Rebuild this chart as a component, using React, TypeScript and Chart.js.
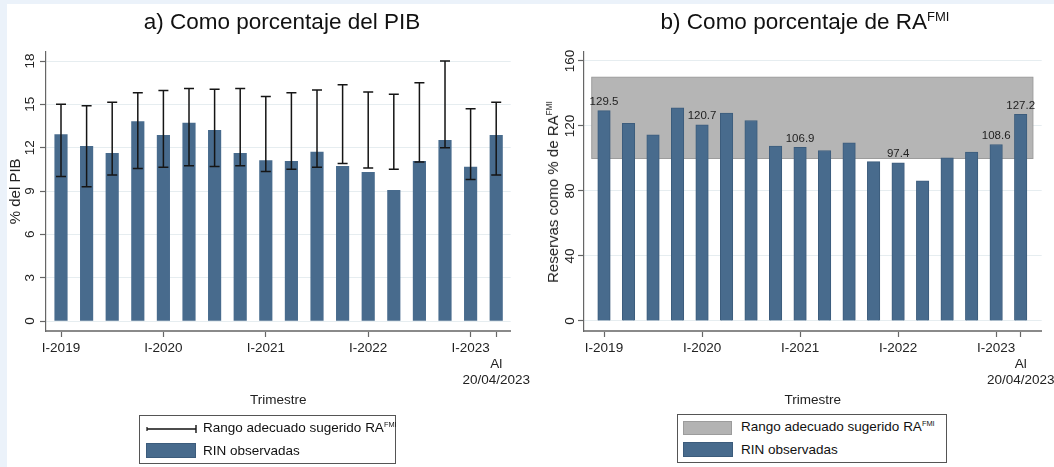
import React, { useEffect, useRef } from "react";
import { Chart, registerables } from "chart.js";

Chart.register(...registerables);

const FONT = '"Liberation Sans", Arial, Helvetica, sans-serif';
Chart.defaults.font.family = FONT;

// ---------------- DATA ----------------
const categories = [
  "I-2019", "II-2019", "III-2019", "IV-2019",
  "I-2020", "II-2020", "III-2020", "IV-2020",
  "I-2021", "II-2021", "III-2021", "IV-2021",
  "I-2022", "II-2022", "III-2022", "IV-2022",
  "I-2023", "Al 20/04/2023",
];
const xTickIndex = [0, 4, 8, 12, 16, 17];
const xTickLabels: (string | string[])[] = ["I-2019", "I-2020", "I-2021", "I-2022", "I-2023", ["", "Al", "20/04/2023"]];

// a) % del PIB
const rinPib = [12.9, 12.1, 11.6, 13.8, 12.85, 13.7, 13.2, 11.6, 11.1, 11.05, 11.7, 10.7, 10.3, 9.05, 11.05, 12.5, 10.65, 12.85];
const rangePibLow = [10.0, 9.3, 10.1, 10.55, 10.65, 10.75, 10.7, 10.75, 10.35, 10.5, 10.65, 10.9, 10.6, 10.5, 11.0, 12.0, 9.8, 10.1];
const rangePibHigh = [15.0, 14.9, 15.15, 15.8, 15.95, 16.1, 16.05, 16.1, 15.55, 15.8, 16.0, 16.35, 15.85, 15.7, 16.5, 18.0, 14.7, 15.15];
const yTicksPib = [0, 3, 6, 9, 12, 15, 18];

// b) % de RA FMI
const rinRa = [129.5, 121.7, 114.6, 131.2, 120.7, 127.9, 123.4, 107.6, 106.9, 104.9, 109.6, 98.1, 97.4, 86.2, 100.4, 103.9, 108.6, 127.2];
const adequateRange = [100, 150];
const labeledIndex = [0, 4, 8, 12, 16, 17];
const yTicksRa = [0, 40, 80, 120, 160];

// ---------------- STYLE ----------------
const BAR = "#486b8d";
const BAR_BORDER = "#3c5c7c";
const GRID = "#e6edf0";
const TICK = "#666666";
const TEXT = "#222222";

// ---------------- PLUGINS ----------------
function makeErrorBarPlugin(low: number[], high: number[]) {
  return {
    id: "errorBars",
    afterDatasetsDraw(chart: any) {
      const { ctx, scales } = chart;
      const x = scales.x, y = scales.y;
      ctx.save();
      ctx.strokeStyle = "#151515";
      ctx.lineWidth = 1.5;
      const cap = 5;
      low.forEach((lo, i) => {
        const px = x.getPixelForValue(i);
        const p1 = y.getPixelForValue(lo);
        const p2 = y.getPixelForValue(high[i]);
        ctx.beginPath();
        ctx.moveTo(px, p1); ctx.lineTo(px, p2);
        ctx.moveTo(px - cap, p1); ctx.lineTo(px + cap, p1);
        ctx.moveTo(px - cap, p2); ctx.lineTo(px + cap, p2);
        ctx.stroke();
      });
      ctx.restore();
    },
  };
}

function makeBandPlugin(range: number[], count: number) {
  return {
    id: "band",
    beforeDatasetsDraw(chart: any) {
      const { ctx, scales } = chart;
      const x = scales.x, y = scales.y;
      const x1 = x.getPixelForValue(-0.5);
      const x2 = x.getPixelForValue(count - 0.5);
      const y1 = y.getPixelForValue(range[1]);
      const y2 = y.getPixelForValue(range[0]);
      ctx.save();
      ctx.fillStyle = "#b5b5b5";
      ctx.fillRect(x1, y1, x2 - x1, y2 - y1);
      ctx.strokeStyle = "#9c9c9c";
      ctx.lineWidth = 1;
      ctx.strokeRect(x1, y1, x2 - x1, y2 - y1);
      ctx.restore();
    },
  };
}

function makeValueLabelPlugin(values: number[], idx: number[]) {
  return {
    id: "valueLabels",
    afterDatasetsDraw(chart: any) {
      const { ctx } = chart;
      const meta = chart.getDatasetMeta(0);
      ctx.save();
      ctx.fillStyle = TEXT;
      ctx.font = `11.5px ${FONT}`;
      ctx.textAlign = "center";
      ctx.textBaseline = "bottom";
      idx.forEach((i) => {
        const el = meta.data[i];
        if (!el) return;
        ctx.fillText(values[i].toFixed(1), el.x, el.y - 3);
      });
      ctx.restore();
    },
  };
}

// ---------------- CONFIG ----------------
function makeConfig(opts: {
  values: number[];
  xMin: number; xMax: number;
  yMin: number; yMax: number;
  yTicks: number[];
  yWidth: number;
  yTickPadding: number;
  yTitle?: string;
  padRight: number;
  withBorder: boolean;
  plugins: any[];
}): any {
  return {
    type: "bar",
    data: {
      labels: categories,
      datasets: [
        {
          label: "RIN observadas",
          data: opts.values.map((v, i) => ({ x: i, y: v })),
          backgroundColor: BAR,
          borderColor: BAR_BORDER,
          borderWidth: opts.withBorder ? 1 : 0,
          barThickness: 12.5,
        },
      ],
    },
    plugins: opts.plugins,
    options: {
      responsive: false,
      animation: false,
      events: [],
      layout: { padding: { left: 0, top: 51.7, right: opts.padRight, bottom: 59 } },
      plugins: { legend: { display: false }, tooltip: { enabled: false }, title: { display: false } },
      scales: {
        x: {
          type: "linear",
          min: opts.xMin,
          max: opts.xMax,
          offset: false,
          afterBuildTicks: (s: any) => { s.ticks = xTickIndex.map((v) => ({ value: v })); },
          afterFit: (s: any) => { s.height = 77; s.paddingLeft = 0; s.paddingRight = 0; },
          border: { display: true, color: "#8a8a8a", width: 2 },
          grid: { display: true, offset: false, drawOnChartArea: false, drawTicks: true, tickLength: 6, tickColor: TICK, tickWidth: 1.2 },
          ticks: {
            autoSkip: false, maxRotation: 0, minRotation: 0, padding: 4, color: TEXT,
            font: { size: 13.5, lineHeight: 1.15 },
            callback: (_v: any, i: number) => xTickLabels[i],
          },
          title: { display: true, text: "Trimestre", color: TEXT, font: { size: 13.5 }, padding: { top: 0, bottom: 0 } },
        },
        y: {
          type: "linear",
          min: opts.yMin,
          max: opts.yMax,
          afterBuildTicks: (s: any) => { s.ticks = opts.yTicks.map((v) => ({ value: v })); },
          afterFit: (s: any) => { s.width = opts.yWidth; s.paddingTop = 0; s.paddingBottom = 0; },
          border: { display: true, color: "#666666", width: 1.2 },
          grid: { color: GRID, lineWidth: 1, drawTicks: true, tickLength: 6, tickColor: TICK, tickWidth: 1.2 },
          ticks: {
            minRotation: 90, maxRotation: 90, crossAlign: "center", padding: opts.yTickPadding,
            color: TEXT, font: { size: 13.5 },
          },
          title: opts.yTitle
            ? { display: true, text: opts.yTitle, color: TEXT, font: { size: 15 }, padding: { top: 7, bottom: 0 } }
            : { display: false },
        },
      },
    },
  };
}

function ChartBox({ config, left, width }: { config: () => any; left: number; width: number }) {
  const ref = useRef<HTMLCanvasElement | null>(null);
  useEffect(() => {
    if (!ref.current) return;
    const chart = new Chart(ref.current, config());
    return () => chart.destroy();
  }, []);
  return (
    <canvas
      ref={ref}
      width={width}
      height={467}
      style={{ position: "absolute", left, top: 0, width, height: 467 }}
    />
  );
}

const supStyle: React.CSSProperties = { fontSize: "0.55em", verticalAlign: "0.7em", lineHeight: 0 };

function Legend({ left, top, width, first }: { left: number; top: number; width: number; first: "errorbar" | "band" }) {
  const rowText: React.CSSProperties = {
    position: "absolute", left: 63, height: 18, lineHeight: "18px", fontSize: 13.5, color: "#111", whiteSpace: "nowrap",
  };
  return (
    <div
      style={{
        position: "absolute", left, top, width, height: 49, boxSizing: "border-box",
        border: "1.5px solid #555", background: "#fff",
      }}
    >
      {first === "errorbar" ? (
        <svg style={{ position: "absolute", left: 6, top: 7 }} width={52} height={12}>
          <line x1={1} y1={6} x2={50} y2={6} stroke="#111" strokeWidth={1.4} />
          <line x1={1} y1={4} x2={1} y2={8} stroke="#111" strokeWidth={1.2} />
          <line x1={50} y1={2} x2={50} y2={10} stroke="#111" strokeWidth={1.4} />
        </svg>
      ) : (
        <div style={{ position: "absolute", left: 5, top: 6, width: 49, height: 14, background: "#b3b3b3", border: "1px solid #9c9c9c", boxSizing: "border-box" }} />
      )}
      <div style={{ ...rowText, top: 3 }}>
        Rango adecuado sugerido RA<span style={supStyle}>FMI</span>
      </div>
      <div style={{ position: "absolute", left: first === "errorbar" ? 6 : 5, top: 27, width: 50, height: 15, background: BAR, border: "1px solid " + BAR_BORDER, boxSizing: "border-box" }} />
      <div style={{ ...rowText, top: 26 }}>RIN observadas</div>
    </div>
  );
}

export default function App() {
  const leftConfig = () =>
    makeConfig({
      values: rinPib,
      xMin: -0.586, xMax: 17.566,
      yMin: -0.692, yMax: 18.644,
      yTicks: yTicksPib,
      yWidth: 46,
      yTickPadding: 2,
      yTitle: "% del PIB",
      padRight: 19.3,
      withBorder: false,
      plugins: [makeErrorBarPlugin(rangePibLow, rangePibHigh)],
    });
  const rightConfig = () =>
    makeConfig({
      values: rinRa,
      xMin: -0.816, xMax: 17.858,
      yMin: -6.154, yMax: 165.72,
      yTicks: yTicksRa,
      yWidth: 54,
      yTickPadding: -3.25,
      padRight: 12.3,
      withBorder: true,
      plugins: [makeBandPlugin(adequateRange, rinRa.length), makeValueLabelPlugin(rinRa, labeledIndex)],
    });

  const titleStyle: React.CSSProperties = {
    position: "absolute", top: 8, height: 28, lineHeight: "28px", fontSize: 22.5, color: "#111",
    whiteSpace: "nowrap", transform: "translateX(-50%)",
  };

  return (
    <div style={{ position: "absolute", left: 0, top: 0, width: 1054, height: 467, background: "#ebf2fa", overflow: "hidden", fontFamily: FONT }}>
      <div style={{ position: "absolute", left: 7, top: 4, right: 0, bottom: 0, background: "#fff" }} />
      <ChartBox config={leftConfig} left={0} width={530} />
      <ChartBox config={rightConfig} left={530} width={524} />
      <div style={{ ...titleStyle, left: 282 }}>a) Como porcentaje del PIB</div>
      <div style={{ ...titleStyle, left: 805 }}>
        b) Como porcentaje de RA<span style={{ fontSize: 13, verticalAlign: "0.6em", lineHeight: 0 }}>FMI</span>
      </div>
      <div
        style={{
          position: "absolute", left: 553, top: 192, fontSize: 15, lineHeight: "18px", color: TEXT, whiteSpace: "nowrap",
          transform: "translate(-50%, -50%) rotate(-90deg)",
        }}
      >
        Reservas como % de RA<span style={supStyle}>FMI</span>
      </div>
      <Legend left={139} top={415} width={257} first="errorbar" />
      <Legend left={677} top={414} width={270} first="band" />
    </div>
  );
}
